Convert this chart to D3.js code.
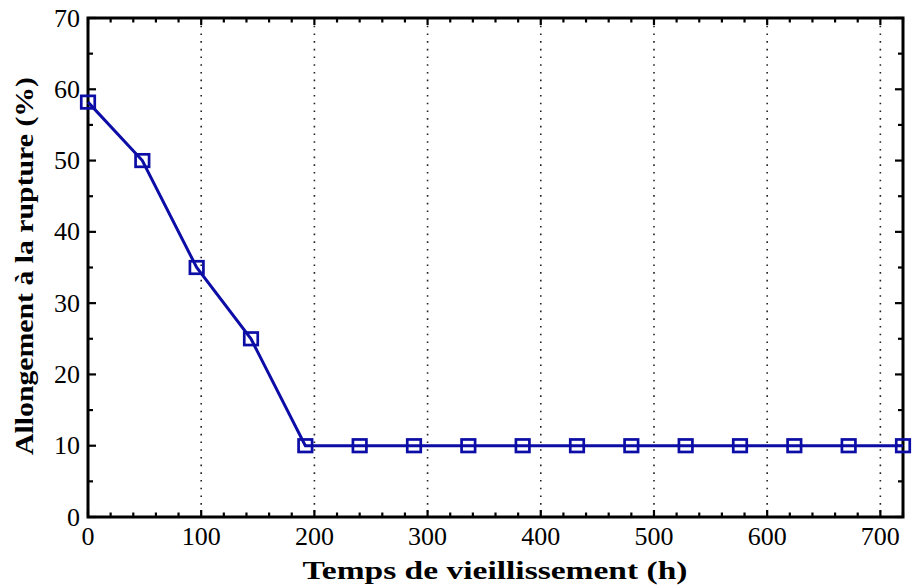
<!DOCTYPE html>
<html>
<head>
<meta charset="utf-8">
<script src="https://cdn.jsdelivr.net/npm/d3@7"></script>
<style>
  html, body { margin: 0; padding: 0; background: #fff; }
  svg { display: block; }
  text { font-family: "Liberation Serif", "Times New Roman", serif; fill: #000; }
</style>
</head>
<body>
<svg id="chart" width="912" height="586"></svg>
<script>
// Aging time (h) and elongation at break (%)
const hours = [0, 48, 96, 144, 192, 240, 288, 336, 384, 432, 480, 528, 576, 624, 672, 720];
const elongation = [58.2, 50, 35, 25, 10, 10, 10, 10, 10, 10, 10, 10, 10, 10, 10, 10];
const xTicks = [0, 100, 200, 300, 400, 500, 600, 700];
const yTicks = [0, 10, 20, 30, 40, 50, 60, 70];
const xTitle = "Temps de vieillissement (h)";
const yTitle = "Allongement à la rupture (%)";

const svg = d3.select("#chart");
const m = { left: 88, right: 903, top: 18, bottom: 517 };

const x = d3.scaleLinear().domain([0, 720]).range([m.left, m.right]);
const y = d3.scaleLinear().domain([0, 70]).range([m.bottom, m.top]);

// dotted vertical grid
svg.append("g").selectAll("line")
  .data(xTicks.filter(d => d > 0))
  .join("line")
  .attr("x1", d => x(d)).attr("x2", d => x(d))
  .attr("y1", m.top).attr("y2", m.bottom)
  .attr("stroke", "#222").attr("stroke-width", 1.6)
  .attr("stroke-dasharray", "1.6,6.1");

// inward ticks on all four sides
const minorX = d3.range(0, 721, 20);
const minorY = d3.range(0, 71, 5);
const ticks = svg.append("g").attr("stroke", "#000").attr("stroke-width", 2.2);
minorX.forEach(v => {
  const len = v % 100 === 0 ? 7 : 4.5;
  ticks.append("line").attr("x1", x(v)).attr("x2", x(v)).attr("y1", m.bottom).attr("y2", m.bottom - len);
  ticks.append("line").attr("x1", x(v)).attr("x2", x(v)).attr("y1", m.top).attr("y2", m.top + len);
});
minorY.forEach(v => {
  const len = v % 10 === 0 ? 8 : 5;
  ticks.append("line").attr("y1", y(v)).attr("y2", y(v)).attr("x1", m.left).attr("x2", m.left + len);
  ticks.append("line").attr("y1", y(v)).attr("y2", y(v)).attr("x1", m.right).attr("x2", m.right - len);
});

// frame
svg.append("rect")
  .attr("x", m.left).attr("y", m.top)
  .attr("width", m.right - m.left).attr("height", m.bottom - m.top)
  .attr("fill", "none").attr("stroke", "#000").attr("stroke-width", 3);

// tick labels
svg.append("g").selectAll("text")
  .data(xTicks).join("text")
  .attr("x", d => x(d)).attr("y", 545)
  .attr("text-anchor", "middle")
  .attr("font-size", 26)
  .text(d => d);

svg.append("g").selectAll("text")
  .data(yTicks).join("text")
  .attr("x", 80).attr("y", d => y(d) + 8.5)
  .attr("text-anchor", "end")
  .attr("font-size", 26)
  .text(d => d);

// axis titles
svg.append("text")
  .attr("x", 495).attr("y", 579)
  .attr("text-anchor", "middle")
  .attr("font-size", 25).attr("font-weight", "bold")
  .attr("textLength", 385).attr("lengthAdjust", "spacingAndGlyphs")
  .text(xTitle);

svg.append("text")
  .attr("transform", "translate(33,266) rotate(-90)")
  .attr("text-anchor", "middle")
  .attr("font-size", 25).attr("font-weight", "bold")
  .attr("textLength", 378).attr("lengthAdjust", "spacingAndGlyphs")
  .text(yTitle);

// data line and square markers
const pts = hours.map((h, i) => [h, elongation[i]]);
const blue = "#0c0ca6";
svg.append("path")
  .datum(pts)
  .attr("d", d3.line().x(d => x(d[0])).y(d => y(d[1])))
  .attr("fill", "none").attr("stroke", blue).attr("stroke-width", 3);

const s = 13.5;
svg.append("g").selectAll("rect")
  .data(pts).join("rect")
  .attr("x", d => x(d[0]) - s / 2).attr("y", d => y(d[1]) - (s - 1) / 2)
  .attr("width", s).attr("height", s - 1)
  .attr("fill", "none").attr("stroke", blue).attr("stroke-width", 2.7);
</script>
</body>
</html>
